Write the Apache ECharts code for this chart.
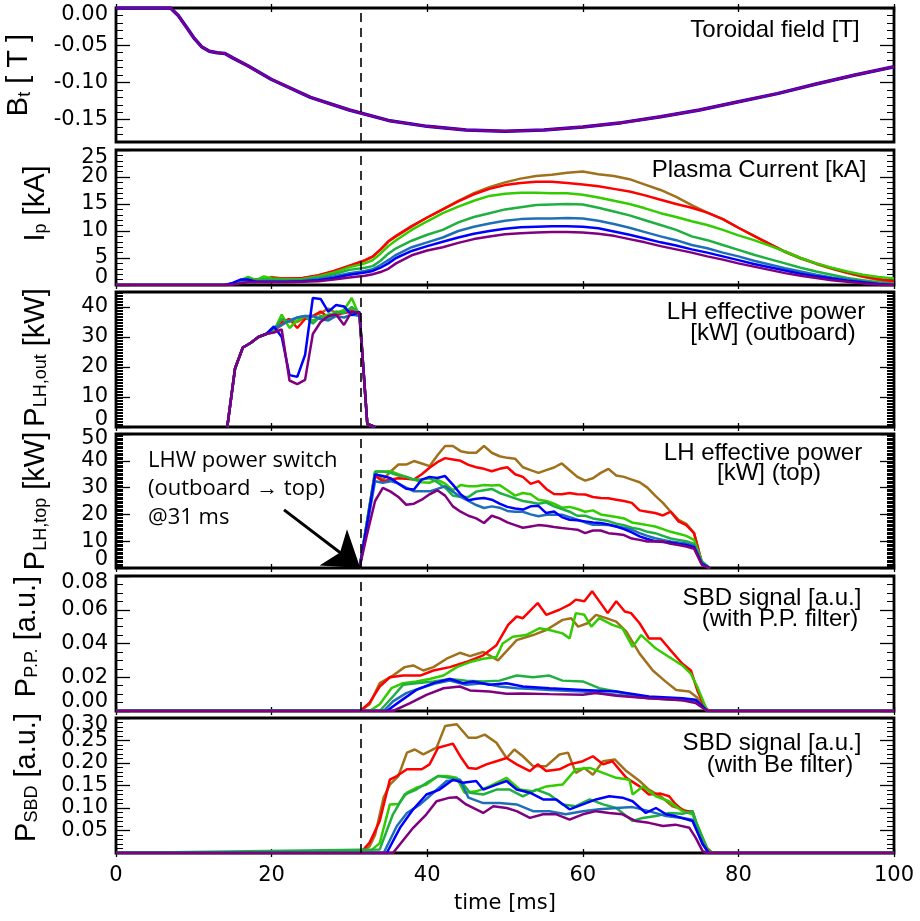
<!DOCTYPE html>
<html><head><meta charset="utf-8">
<script src="https://cdn.jsdelivr.net/npm/echarts@6/dist/echarts.min.js"></script>
<style>html,body{margin:0;padding:0;background:#fff}#c{width:920px;height:921px}</style>
</head><body><div id="c"></div>
<script>
// ---------------- DATA ----------------
const seriesColors = ['#a0701a', '#ff0000', '#33cc00', '#1fb040', '#1f6fb8', '#0000ff', '#800080'];
const xTicks = [0, 20, 40, 60, 80, 100];

// Panel 1: toroidal field [T]
const btTime = [0, 7, 8, 9, 10, 11, 12, 13, 14, 15, 17, 20, 25, 30, 35, 40, 45, 50, 55, 60, 65, 70, 75, 80, 85, 90, 95, 100];
const btValue = [0, 0, -0.010, -0.025, -0.040, -0.052, -0.058, -0.060, -0.061, -0.067, -0.078, -0.096, -0.120, -0.137, -0.151, -0.159, -0.164, -0.1655, -0.164, -0.160, -0.154, -0.146, -0.137, -0.126, -0.115, -0.102, -0.090, -0.079];

// Panel 2: plasma current [kA]
const ipTime = [0,14,15,16,17,18,19,20,21,22,24,26,28,30,32,33,34,35,36,38,40,42,44,46,48,50,52,54,56,58,60,62,64,66,68,70,72,74,76,78,80,82,84,86,88,90,92,94,96,98,100];
const ipBrown  = [0,0,0.2,0.5,0.8,1.0,1.0,1.5,1.3,1.2,1.3,1.7,2.5,3.5, 4.5,5.2,6.5,8.0,9.0, 10.8,12.5,14.0,15.6,17.0,18.1,19.0,19.7,20.2,20.4,20.8,21.0,20.5,20.2,19.6,18.6,17.6,16.3,14.8,13.4,12.2,10.6,9.1,7.6,6.1,4.9,3.9,3.0,2.2,1.5,0.9,0.4];
const ipRed    = [0,0,0.2,0.5,0.8,1.0,1.0,1.3,1.2,1.2,1.3,1.8,2.6,3.6, 4.6,5.3,6.6,8.1,9.1, 10.9,12.5,14.0,15.5,16.8,17.8,18.5,18.9,19.1,19.1,18.9,18.6,18.3,17.8,17.3,16.6,15.8,15.0,14.3,13.4,12.2,10.6,9.1,7.6,6.2,5.0,4.0,3.1,2.3,1.6,1.1,0.7];
const ipLime   = [0,0,0.3,0.9,1.5,0.9,1.6,1.2,1.1,1.0,1.1,1.6,2.3,3.3, 4.0,4.6,5.8,7.2,8.3, 10.2,11.8,13.3,14.5,15.6,16.5,16.9,17.1,17.1,17.0,17.0,16.7,16.2,15.6,15.0,14.2,13.3,12.6,11.8,11.1,10.2,9.2,8.3,7.3,6.2,5.0,4.0,3.2,2.5,1.9,1.5,1.2];
const ipGreen  = [0,0,0.3,0.8,1.2,0.8,1.1,1.0,1.0,0.9,1.0,1.4,2.0,2.8, 3.2,3.5,4.5,5.8,6.8, 8.2,9.3,10.2,11.6,12.6,13.3,14.0,14.4,14.8,14.9,15.0,14.9,14.3,13.6,12.9,12.0,11.1,10.2,9.0,8.3,7.4,6.5,5.6,4.8,4.0,3.2,2.5,1.9,1.3,0.9,0.5,0.2];
const ipTeal   = [0,0,0.3,0.8,0.9,0.7,0.7,0.7,0.7,0.7,0.8,1.1,1.6,2.2, 2.6,2.9,3.7,4.6,5.6, 7.0,7.9,8.8,10.0,10.8,11.4,11.9,12.2,12.3,12.3,12.4,12.3,11.9,11.3,10.6,9.8,9.0,8.3,7.4,6.8,6.0,5.3,4.5,3.8,3.1,2.5,1.9,1.4,1.0,0.6,0.3,0.1];
const ipBlue   = [0,0,0.4,1.0,1.0,0.6,0.6,0.6,0.6,0.6,0.7,0.9,1.3,1.9, 2.3,2.6,3.2,4.0,5.0, 6.3,7.2,8.0,8.8,9.5,10.0,10.4,10.7,10.8,10.9,10.9,10.8,10.5,9.9,9.3,8.6,7.9,7.3,6.6,6.0,5.3,4.6,3.9,3.3,2.7,2.1,1.6,1.2,0.8,0.5,0.2,0.0];
const ipPurple = [0,0,0.1,0.3,0.5,0.5,0.5,0.5,0.5,0.5,0.6,0.7,1.0,1.4, 1.7,2.0,2.4,3.0,4.0, 5.5,6.4,7.0,7.8,8.5,9.0,9.4,9.6,9.7,9.8,9.8,9.7,9.5,9.1,8.5,7.9,7.2,6.6,6.0,5.3,4.7,4.0,3.4,2.8,2.2,1.7,1.3,0.9,0.6,0.3,0.1,0.0];

// Panel 3: LH effective power, outboard [kW]
const lhOutTime = [14.3,15.3,16.3,17.3,18.3,19.3,20.3,21.3,22.3,23.3,24.3,25.3,26.3,27.3,28.3,29.3,30.3,31.3,32.3,33.3];
const lhOutBrown  = [0,19.5,26.5,28,30,31,32,34,35.5,35,36.5,37,38,39.5,38,38.5,39,37,1,0];
const lhOutRed    = [0,19.5,26.5,28,30,31,32,35,36,33,36,37,38.5,36.5,37.5,38,38.5,37,1,0];
const lhOutLime   = [0,19.5,26.5,28,30,31,32,37.5,33,35.5,37,35.5,36.5,37.5,38,39,43,37,1,0];
const lhOutGreen  = [0,19.5,26.5,28,30,31,32.5,36,35,36.5,37,34.5,37,36,38.5,38,40,38,1,0];
const lhOutTeal   = [0,19.5,26.5,28,30,31,33,34,35.5,36.5,37,37,36,35.5,37,36.5,37.5,37,1,0];
const lhOutBlue   = [0,19.5,26.5,28,30,31,33.5,30,17.3,16.7,24,43,42.7,38.4,40.7,40.2,37.3,38.4,1,0];
const lhOutPurple = [0,19.5,26.5,28,30,31,31.5,32.5,15.5,14.3,15.7,31,35,37,37.5,34,38.5,38,1,0];

// Panel 4: LH effective power, top [kW]
const lhTopTime = [31.3,32.3,33.3,34.3,35.3,36.3,37.3,38.3,39.3,40.3,41.3,42.3,43.3,44.3,45.3,46.3,47.3,48.3,49.3,50.3,51.3,52.3,53.3,54.3,55.3,56.3,57.3,58.3,59.3,60.3,61.3,62.3,63.3,64.3,65.3,66.3,67.3,68.3,69.3,70.3,71.3,72.3,73.3,74.3,75.3,76.3];
const lhTopBrown  = [0,18,35.5,33,36,38.6,38.6,39.9,39,38,42,45.5,45.5,43.6,43,43,45.5,43,41.7,41.1,40.8,37.6,36.5,35.5,36.5,37.5,39,36.5,34,32.6,33.5,35.5,37,34.5,34,33,32,30,27,24.3,21,18,16.5,13,2,0];
const lhTopRed    = [0,17,34.3,32.4,33,33.5,33.3,33,35,37.4,39.5,41,40.5,40,38.5,37.6,37,36.1,37,37.6,35,34,31.4,32.4,29.5,27.6,27.5,28,27.5,27.4,26.5,26.1,26,25.5,25,24.3,21.5,21,20.5,19.6,21,17.4,16,13,2,0];
const lhTopLime   = [0,18,35.8,36,36.1,35,34,33,32,31.8,33,31.5,29,31,30.5,30.5,31,30.8,31,29,27,28,27.5,25.5,25,24,22.5,22.8,22,21,21.5,20,19.5,19,18.5,17,16.5,16,15.5,14.5,13.5,12.8,12,10.5,2.5,0];
const lhTopGreen  = [0,18,36,36,35.5,34.5,34,33,33,33.5,32,30,27,26.5,26.5,28.5,29,29.5,28,27,26,25,24.5,24,24.5,23,22,21,19.5,19.5,18.5,18,17.5,16.5,16,15,14.5,13.5,13,12,11,10.5,10,9,2,0];
const lhTopTeal   = [0,16,32.4,31.8,32.4,31.5,30,28.6,28.6,28.6,29.5,30.5,28.5,26.5,25,23.5,22.4,23,22.5,21.3,21,21,20,19.3,19.9,19.9,19.9,19,18,17,16.1,16.1,16,15.5,15,14.3,13,12,11.1,10.5,9.9,9.5,9.1,8.3,2,0];
const lhTopBlue   = [0,17,34.9,34.3,33.5,31.5,29.6,29.3,33,34,33.6,34.3,31.1,27.5,25.3,25.8,26.1,25.5,24,22.8,22.2,21.8,23,23.2,20.5,21.1,19,18,17.8,17.4,17,16.8,16.2,15.5,14.5,13.3,11.8,10.8,10,9.7,9.5,9,8.6,7.8,1.5,0];
const lhTopPurple = [0,13,25,29.9,28.5,26.5,23.6,24,25.5,27.5,29,27,23,21,19.5,18.5,16.8,19.5,18.5,17,16,15,15.5,16,15.8,15.3,14.9,14.6,14.3,13,14,14,13,12.7,12.3,11,10.5,9.9,9.9,9.9,9,8.6,8,7.2,1.2,0];

// Panel 5: SBD signal with P.P. filter [a.u.]  ([time, value])
const ppBrown  = [[0,0],[31.4,0],[32.6,0.004],[33.9,0.0165],[35.6,0.021],[37.1,0.026],[38.2,0.027],[39.5,0.024],[40.8,0.026],[42.5,0.031],[44.2,0.0345],[45.5,0.0325],[47.2,0.035],[49.1,0.030],[51.5,0.042],[53.6,0.045],[55.3,0.048],[57.4,0.054],[58.5,0.055],[59.4,0.050],[60.6,0.052],[61.7,0.057],[63,0.055],[64.3,0.053],[65.6,0.047],[67.3,0.034],[69,0.024],[70.5,0.018],[72,0.0125],[73.7,0.0115],[74.7,0.008],[75.8,0.001],[76.5,0],[100,0]];
const ppRed    = [[0,0],[31.4,0],[32.6,0.005],[33.9,0.0145],[35.2,0.020],[36.9,0.021],[39.1,0.021],[40.8,0.024],[42.9,0.026],[45,0.029],[47.2,0.033],[48.9,0.039],[50.4,0.051],[51.5,0.056],[52.3,0.055],[54.2,0.064],[55.3,0.057],[57,0.060],[58.3,0.063],[59.1,0.066],[60.2,0.065],[61.2,0.071],[62.6,0.062],[63.2,0.058],[64.3,0.065],[65.4,0.059],[66.2,0.058],[67.3,0.052],[68.5,0.043],[70,0.043],[71.1,0.037],[72.8,0.028],[73.9,0.024],[74.7,0.0125],[75.6,0.003],[76.2,0],[100,0]];
const ppLime   = [[0,0],[32.6,0],[33.9,0.004],[35.4,0.0135],[36.9,0.0165],[38.6,0.0175],[40.3,0.019],[42.1,0.021],[43.8,0.026],[45.5,0.029],[47.2,0.031],[48.9,0.032],[49.7,0.040],[51,0.044],[52.7,0.045],[54.4,0.049],[55.7,0.048],[57.4,0.046],[58.3,0.043],[59.1,0.058],[60.2,0.057],[61.1,0.050],[62.1,0.055],[63.8,0.051],[65.1,0.049],[66.4,0.038],[67.5,0.045],[69.4,0.037],[71.1,0.032],[72.8,0.027],[73.9,0.022],[74.7,0.0145],[76,0],[100,0]];
const ppGreen  = [[0,0],[33.9,0],[35.6,0.0086],[36.9,0.0155],[38.6,0.0165],[40.8,0.0175],[42.9,0.019],[45,0.018],[47.2,0.0175],[49.3,0.018],[51.5,0.021],[53.6,0.020],[55.7,0.021],[57.4,0.018],[60,0.0175],[62.1,0.0135],[64.3,0.0115],[66.4,0.0095],[68.5,0.0075],[70.7,0.007],[72.8,0.0063],[74.5,0.0057],[76,0],[100,0]];
const ppTeal   = [[0,0],[34.4,0],[35.6,0.0057],[37.3,0.0106],[39.1,0.0135],[41.2,0.0165],[42.9,0.018],[45,0.0155],[47.2,0.0165],[49.3,0.0145],[51.5,0.0135],[53.6,0.013],[55.7,0.0125],[60,0.0115],[64.3,0.0096],[68.5,0.0076],[72.8,0.0067],[74.5,0.0063],[76,0],[100,0]];
const ppBlue   = [[0,0],[34.8,0],[36.5,0.0057],[38.6,0.0125],[40.8,0.0165],[42.9,0.019],[44.6,0.0165],[45.9,0.0175],[48,0.0155],[50.2,0.0165],[52.3,0.0145],[55.7,0.0135],[60,0.0125],[64.3,0.0115],[68.5,0.0086],[72.8,0.0076],[74.5,0.0067],[76,0],[100,0]];
const ppPurple = [[0,0],[35.6,0],[37.8,0.0047],[39.9,0.0096],[42.1,0.0135],[44.2,0.0145],[45.5,0.0122],[48,0.0116],[50.2,0.0102],[52.3,0.0104],[55.7,0.010],[60,0.0096],[61.7,0.0106],[64.3,0.009],[68.5,0.0076],[72.8,0.0063],[74.5,0.0047],[76,0],[100,0]];

// Panel 6: SBD signal with Be filter [a.u.]  ([time, value])
const sbdBrown  = [[0,0],[31.4,0],[32.6,0.015],[33.3,0.04],[34.4,0.123],[35.2,0.152],[36.3,0.171],[37.4,0.223],[38.4,0.23],[39.5,0.219],[41.2,0.234],[42.3,0.282],[43.8,0.286],[45.3,0.256],[46.3,0.256],[47.4,0.263],[48.9,0.245],[50.2,0.211],[51.2,0.23],[52.3,0.215],[53.6,0.193],[55.3,0.193],[57,0.219],[58.1,0.223],[59.1,0.178],[60.2,0.189],[61.3,0.174],[62.6,0.204],[64.1,0.208],[65.6,0.182],[67.3,0.16],[68.5,0.141],[70,0.126],[71.5,0.104],[72.8,0.097],[74.1,0.089],[74.9,0.052],[76,0.011],[76.7,0],[100,0]];
const sbdRed    = [[0,0],[31.4,0],[32.6,0.023],[33.9,0.071],[35.2,0.163],[36.1,0.171],[37.4,0.186],[39.3,0.186],[40.3,0.197],[41.4,0.234],[43.3,0.243],[44.4,0.211],[45.3,0.189],[46.3,0.187],[47.6,0.197],[48.9,0.204],[50.2,0.211],[51.5,0.197],[53.2,0.182],[54.2,0.197],[55.3,0.182],[57,0.186],[58.3,0.197],[60,0.204],[61.3,0.215],[62.6,0.197],[63.8,0.204],[65.6,0.167],[67.3,0.148],[68.5,0.13],[70,0.132],[71.1,0.126],[71.9,0.109],[73,0.093],[74.1,0.093],[74.9,0.048],[76,0.008],[76.5,0],[100,0]];
const sbdLime   = [[0,0],[32.6,0.003],[33.9,0.022],[35.2,0.108],[36.3,0.109],[37.4,0.134],[38.6,0.145],[39.9,0.152],[41.4,0.171],[42.5,0.171],[43.8,0.167],[44.8,0.134],[46.3,0.137],[48,0.148],[50.2,0.167],[51.9,0.141],[53.6,0.137],[55.3,0.148],[57.4,0.152],[59.1,0.186],[60.9,0.189],[62.6,0.178],[64.3,0.167],[66,0.163],[66.4,0.13],[67.7,0.148],[69.4,0.126],[71.1,0.115],[72.8,0.093],[74.1,0.086],[74.9,0.056],[76,0.008],[76.5,0],[100,0]];
const sbdGreen  = [[0,0],[33.9,0.008],[35.6,0.086],[37.1,0.13],[38.6,0.141],[40.3,0.16],[41.4,0.171],[42.9,0.167],[44.2,0.163],[45.5,0.134],[47.2,0.13],[48.9,0.141],[50.6,0.141],[52.3,0.126],[54,0.141],[55.7,0.13],[57.4,0.108],[59.1,0.104],[60.9,0.119],[62.6,0.108],[64.3,0.10],[66.4,0.071],[67.7,0.078],[69.4,0.082],[71.1,0.089],[72.8,0.087],[74.1,0.093],[74.9,0.052],[76,0.008],[76.5,0],[100,0]];
const sbdTeal   = [[0,0],[34.4,0],[36.1,0.06],[37.4,0.089],[39.1,0.108],[40.8,0.134],[42.5,0.16],[44.2,0.163],[45.3,0.123],[47.2,0.111],[49.3,0.111],[51.5,0.108],[53.6,0.093],[55.7,0.093],[57.8,0.086],[60,0.093],[62.1,0.097],[64.3,0.10],[66.4,0.102],[68.5,0.093],[70.7,0.082],[72.8,0.078],[74.1,0.074],[75.4,0.02],[76.2,0],[100,0]];
const sbdBlue   = [[0,0],[34.8,0],[36.5,0.056],[38.2,0.097],[39.9,0.13],[41.6,0.141],[43.3,0.163],[44.6,0.156],[46.3,0.16],[47.2,0.141],[48.9,0.152],[50.2,0.16],[51.5,0.141],[53.2,0.134],[54.9,0.119],[56.6,0.119],[58.3,0.097],[60,0.108],[61.7,0.119],[63.4,0.126],[65.1,0.123],[66.4,0.115],[68.1,0.089],[69.4,0.10],[70.7,0.086],[71.9,0.082],[74.1,0.071],[75.4,0.02],[76.2,0],[100,0]];
const sbdPurple = [[0,0],[35.6,0],[38.2,0.056],[39.9,0.086],[41.2,0.115],[42.9,0.123],[43.8,0.124],[45,0.108],[47.2,0.089],[48.5,0.104],[50.2,0.10],[51.5,0.093],[53.2,0.078],[54.9,0.086],[56.6,0.086],[58.3,0.074],[60,0.086],[61.7,0.093],[63.4,0.089],[65.1,0.086],[66.8,0.071],[68.5,0.067],[70.3,0.06],[71.9,0.063],[73.7,0.056],[74.5,0.034],[75.4,0.004],[76,0],[100,0]];

// Event marker and annotation arrow
const switchTime = 31.4;
const arrowFrom = [21.6, 21.7];
const arrowTo = [31.4, 0];

// Y tick labels
const btTicks = [-0.15, -0.10, -0.05, 0.00];
const ipTicks = [0, 5, 10, 15, 20, 25];
const lhOutTicks = [0, 10, 20, 30, 40];
const lhTopTicks = [0, 10, 20, 30, 40, 50];
const ppTicks = [0, 0.02, 0.04, 0.06, 0.08];
const sbdTicks = [0.05, 0.10, 0.15, 0.20, 0.25, 0.30];

// ---------------- CHART ----------------
const zip = (t, v) => t.map((x, i) => [x, v[i]]);
const TICKFONT = 'DejaVu Sans';
const NAMEFONT = 'Liberation Sans';
const ANNFONT = 'Liberation Sans';

const panels = [
  { top: 8,   height: 134, min: -0.18, max: 0,    ticks: btTicks,    dec: 2, minor: 0.01,  shiftTop: 14, shiftBot: 0, nameShift: 0,
    name: '{m|B}{s|t}{m| [ T ]}',
    data: [zip(btTime, btValue), zip(btTime, btValue)], colors: ['#0000ff', '#800080'], widths: [3.5, 2.5] },
  { top: 150, height: 135, min: 0, max: 25,    ticks: ipTicks,    dec: 0, minor: 1,     shiftTop: 16, shiftBot: 14, nameShift: 28,
    name: '{m|I}{s|p}{m| [kA]}',
    data: [ipBrown, ipRed, ipLime, ipGreen, ipTeal, ipBlue, ipPurple].map(v => zip(ipTime, v)) },
  { top: 292, height: 135, min: 0, max: 45,    ticks: lhOutTicks, dec: 0, minor: 0.5,   shiftTop: 0,  shiftBot: 14, nameShift: 4,
    name: '{m|P}{s|LH,out}{m| [kW]}',
    data: [lhOutBrown, lhOutRed, lhOutLime, lhOutGreen, lhOutTeal, lhOutBlue, lhOutPurple].map(v => zip(lhOutTime, v)) },
  { top: 434, height: 134, min: 0, max: 50,    ticks: lhTopTicks, dec: 0, minor: 0.5,   shiftTop: 10, shiftBot: 16, nameShift: 0,
    name: '{m|P}{s|LH,top}{m| [kW]}',
    data: [lhTopBrown, lhTopRed, lhTopLime, lhTopGreen, lhTopTeal, lhTopBlue, lhTopPurple].map(v => zip(lhTopTime, v)) },
  { top: 576, height: 135, min: 0, max: 0.08,  ticks: ppTicks,    dec: 2, minor: 0.005, shiftTop: 14, shiftBot: 18, nameShift: 14,
    name: '{m|P}{s|P.P.}{m| [a.u.]}',
    data: [ppBrown, ppRed, ppLime, ppGreen, ppTeal, ppBlue, ppPurple] },
  { top: 718, height: 135, min: 0, max: 0.30,  ticks: sbdTicks,   dec: 2, minor: 0.01,  shiftTop: 14, shiftBot: 0, nameShift: 16,
    name: '{m|P}{s|SBD}{m| [a.u.]}',
    data: [sbdBrown, sbdRed, sbdLime, sbdGreen, sbdTeal, sbdBlue, sbdPurple] }
];

const grid = [], xAxis = [], yAxis = [], series = [];
const tickLine = { color: '#000', width: 1.3 };
const labelFont = { fontFamily: TICKFONT, fontSize: 21, color: '#000' };

panels.forEach((p, i) => {
  grid.push({ left: 116, right: 26, top: p.top, height: p.height, show: true, outerBoundsMode: 'none',
    borderColor: '#000', borderWidth: 2.8, backgroundColor: 'transparent', containLabel: false });
  const last = i === panels.length - 1;
  xAxis.push({ type: 'value', gridIndex: i, min: 0, max: 100, interval: 20, position: 'bottom',
    axisLine: { show: false }, splitLine: { show: false },
    axisTick: { show: true, inside: true, length: 4, lineStyle: tickLine },
    axisLabel: Object.assign({ show: last, margin: 12, showMinLabel: true, showMaxLabel: true,
      formatter: v => String(v) }, labelFont),
    name: last ? 'time [ms]' : '', nameLocation: 'middle', nameGap: 40,
    nameTextStyle: labelFont });
  xAxis.push({ type: 'value', gridIndex: i, min: 0, max: 100, interval: 20, position: 'top',
    axisLine: { show: false }, splitLine: { show: false },
    axisTick: { show: true, inside: true, length: 4, lineStyle: tickLine },
    axisLabel: { show: false } });

  const tol = (p.max - p.min) * 1e-6;
  const isTop = v => p.shiftTop && Math.abs(v - p.max) < tol;
  const isBot = v => p.shiftBot && Math.abs(v - p.min) < tol;
  const midLabels = p.ticks.filter(v => !isTop(v) && !isBot(v));
  const topLabels = p.ticks.filter(isTop);
  const botLabels = p.ticks.filter(isBot);
  const base = { type: 'value', gridIndex: i, min: p.min, max: p.max, axisLine: { show: false }, splitLine: { show: false } };

  // 0: left major ticks + middle labels + name
  yAxis.push(Object.assign({}, base, { position: 'left',
    axisTick: { show: true, inside: true, length: 14, lineStyle: tickLine, customValues: p.ticks },
    axisLabel: Object.assign({ show: true, margin: 8, customValues: midLabels,
      formatter: v => v.toFixed(p.dec) }, labelFont),
    name: p.name, nameLocation: 'middle', nameRotate: 90, nameGap: 66,
    nameTextStyle: { padding: [0, 0, 0, p.nameShift], rich: {
      m: { fontFamily: NAMEFONT, fontSize: 29, lineHeight: 29, color: '#000', verticalAlign: 'top', padding: [0, 0, 9, 0] },
      s: { fontFamily: NAMEFONT, fontSize: 18, lineHeight: 18, color: '#000', verticalAlign: 'bottom' } } } }));
  // 1: left minor ticks
  yAxis.push(Object.assign({}, base, { position: 'left', interval: p.minor,
    axisTick: { show: true, inside: true, length: 7, lineStyle: { color: '#000', width: 1 } },
    axisLabel: { show: false } }));
  // 2: right major ticks
  yAxis.push(Object.assign({}, base, { position: 'right',
    axisTick: { show: true, inside: true, length: 14, lineStyle: tickLine, customValues: p.ticks },
    axisLabel: { show: false } }));
  // 3: right minor ticks
  yAxis.push(Object.assign({}, base, { position: 'right', interval: p.minor,
    axisTick: { show: true, inside: true, length: 7, lineStyle: { color: '#000', width: 1 } },
    axisLabel: { show: false } }));
  // 4: top label (pushed inward)
  yAxis.push(Object.assign({}, base, { position: 'left', axisTick: { show: false },
    axisLabel: { show: topLabels.length > 0, margin: 8, customValues: topLabels.length ? topLabels : [p.max],
      showMinLabel: true, showMaxLabel: true,
      formatter: v => '{t|' + v.toFixed(p.dec) + '}',
      rich: { t: Object.assign({ padding: [p.shiftTop, 0, 0, 0] }, labelFont) } } }));
  // 5: bottom label (pushed inward)
  yAxis.push(Object.assign({}, base, { position: 'left', axisTick: { show: false },
    axisLabel: { show: botLabels.length > 0, margin: 8, customValues: botLabels.length ? botLabels : [p.min],
      showMinLabel: true, showMaxLabel: true,
      formatter: v => '{b|' + v.toFixed(p.dec) + '}',
      rich: { b: Object.assign({ padding: [0, 0, p.shiftBot, 0] }, labelFont) } } }));

  p.data.forEach((d, k) => {
    const col = p.colors ? p.colors[k] : seriesColors[k];
    const s = {
      type: 'line', xAxisIndex: 2 * i, yAxisIndex: 6 * i, data: d, showSymbol: false, symbol: 'none',
      lineStyle: { width: p.widths ? p.widths[k] : 2.5, color: col }, itemStyle: { color: col },
      animation: false, silent: true, z: 3
    };
    if (k === 0) {
      const ml = [{ xAxis: switchTime }];
      if (i === 3) {
        ml.push([
          { coord: arrowFrom, symbol: 'none', lineStyle: { type: 'solid', width: 3, color: '#000' } },
          { coord: arrowTo, symbol: 'arrow', symbolSize: 34 }
        ]);
      }
      s.markLine = { silent: true, symbol: ['none', 'none'], label: { show: false },
        lineStyle: { color: '#000', type: [9, 6], width: 1.6 }, emphasis: { disabled: true },
        animation: false, data: ml, z: 10 };
    }
    series.push(s);
  });
});

const ann = (x, y, text) => ({ type: 'text', x: x, y: y, z: 20, silent: true,
  style: { text: text, fill: '#000', font: '24px "' + ANNFONT + '"', align: 'center', verticalAlign: 'middle' } });

const graphic = [
  ann(775, 30, 'Toroidal field [T]'),
  ann(759, 170, 'Plasma Current [kA]'),
  ann(766, 312, 'LH effective power'),
  ann(773, 333, '[kW] (outboard)'),
  ann(763, 453, 'LH effective power'),
  ann(769, 473, '[kW] (top)'),
  ann(772, 598, 'SBD signal [a.u.]'),
  ann(780, 619, '(with P.P. filter)'),
  ann(772, 743, 'SBD signal [a.u.]'),
  ann(780, 765, '(with Be filter)'),
  { type: 'text', x: 148, y: 446, z: 20, silent: true,
    style: { text: 'LHW power switch\n(outboard \u2192 top)\n@31 ms', fill: '#000',
      font: '22px "Open Sans"', lineHeight: 28.5, align: 'left', verticalAlign: 'top' } }
];

const chart = echarts.init(document.getElementById('c'), null, { renderer: 'canvas' });
chart.setOption({ animation: false, backgroundColor: '#fff', grid, xAxis, yAxis, series, graphic });
</script></body></html>
